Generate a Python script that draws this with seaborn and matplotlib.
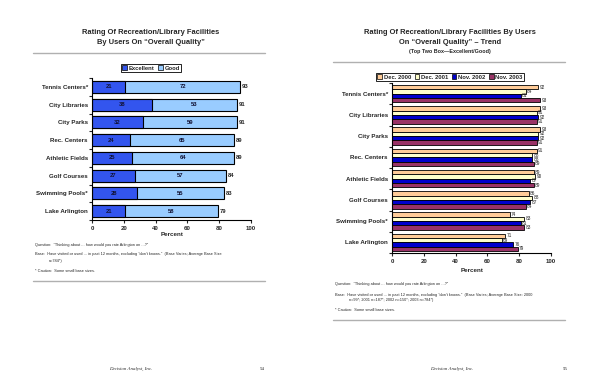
import pandas as pd
import numpy as np
import seaborn as sns
import matplotlib.pyplot as plt
from matplotlib.patches import Patch
from matplotlib.lines import Line2D

facilities = ["Tennis Centers*", "City Libraries", "City Parks", "Rec. Centers",
              "Athletic Fields", "Golf Courses", "Swimming Pools*", "Lake Arlington"]
excellent = [21, 38, 32, 24, 25, 27, 28, 21]
good = [72, 53, 59, 65, 64, 57, 55, 58]
total = [93, 91, 91, 89, 89, 84, 83, 79]

periods = ["Dec. 2000", "Dec. 2001", "Nov. 2002", "Nov. 2003"]
dec2000 = [92, 93, 93, 91, 89, 86, 74, 71]
dec2001 = [84, 91, 92, 88, 90, 88, 83, 69]
nov2002 = [81, 92, 92, 88, 87, 87, 81, 76]
nov2003 = [93, 91, 91, 89, 89, 84, 83, 79]

sns.set_theme(style="white")
plt.rcParams['font.family'] = ['Liberation Sans', 'DejaVu Sans']

W, H = 600, 388
fig = plt.figure(figsize=(6, 3.88), dpi=100)


def fx(px):
    return px / W


def fy(py):
    return 1 - py / H


def style_axes(ax):
    sns.despine(ax=ax)
    ax.set_xlim(0, 100)
    ax.set_ylim(len(facilities) - 0.5, -0.5)
    ax.set_xticks(range(0, 101, 20))
    ax.set_ylabel("")
    ax.set_xlabel("")
    ax.tick_params(axis="x", labelsize=4.4, length=2.5, width=0.8, pad=1.5, direction="out", bottom=True)
    ax.tick_params(axis="y", which="major", labelsize=4.4, length=0, pad=3)
    ax.set_yticks(np.arange(-0.5, len(facilities)), minor=True)
    ax.tick_params(axis="y", which="minor", length=2.5, width=0.8, direction="out", left=True)
    for lab in ax.get_xticklabels() + ax.get_yticklabels():
        lab.set_fontweight("bold")
    for s in ["left", "bottom"]:
        ax.spines[s].set_color("black")
        ax.spines[s].set_linewidth(0.8)
    ax.grid(False)


# ---------- left page ----------
fig.text(fx(151), fy(33), "Rating Of Recreation/Library Facilities", ha="center", va="center",
         fontsize=5.4, fontweight="bold")
fig.text(fx(151), fy(43), "By Users On \u201cOverall Quality\u201d", ha="center", va="center",
         fontsize=5.4, fontweight="bold")
fig.add_artist(Line2D([fx(33), fx(265)], [fy(53), fy(53)], color="#b0b0b0", lw=1))

left = pd.DataFrame({"facility": facilities, "excellent": excellent, "good": good, "total": total})
ax1 = fig.add_axes([fx(92), fy(220), fx(251) - fx(92), (220 - 78) / H])
sns.barplot(data=left, x="total", y="facility", color="#99ccff", saturation=1,
            edgecolor="black", linewidth=0.8, width=0.68, orient="h", ax=ax1)
sns.barplot(data=left, x="excellent", y="facility", color="#3355ee", saturation=1,
            edgecolor="black", linewidth=0.8, width=0.68, orient="h", ax=ax1)
style_axes(ax1)
ax1.bar_label(ax1.containers[0], labels=[str(v) for v in total], padding=1.5, fontsize=4.2, fontweight="bold")
ax1.bar_label(ax1.containers[1], labels=[str(v) for v in excellent], label_type="center",
              fontsize=4.2, fontweight="bold", color="#111133")
for i, (e, g) in enumerate(zip(excellent, good)):
    ax1.text(e + g / 2, i, str(g), ha="center", va="center", fontsize=4.2, fontweight="bold", color="#111133")
fig.text(fx(172), fy(235), "Percent", ha="center", va="center", fontsize=4.5, fontweight="bold")
fig.legend(handles=[Patch(facecolor="#3355ee", edgecolor="black", lw=0.5, label="Excellent"),
                    Patch(facecolor="#99ccff", edgecolor="black", lw=0.5, label="Good")],
           loc="center", bbox_to_anchor=(fx(151), fy(68)), ncol=2,
           prop={"weight": "bold", "size": 4.2}, frameon=True, fancybox=False, edgecolor="black",
           handlelength=0.8, handleheight=0.8, handletextpad=0.3, columnspacing=0.6,
           borderpad=0.3, framealpha=1).get_frame().set_linewidth(0.6)

fig.text(fx(35), fy(245), "Question:  \u201cThinking about ... how would you rate Arlington on ...?\u201d",
         fontsize=2.8, va="center")
fig.text(fx(35), fy(254), "Base:  Have visited or used ... in past 12 months, excluding \u201cdon\u2019t knows.\u201d  (Base Varies; Average Base Size",
         fontsize=2.8, va="center")
fig.text(fx(49), fy(261), "n=784*)", fontsize=2.8, va="center")
fig.text(fx(35), fy(271), "* Caution:  Some small base sizes.", fontsize=2.8, va="center")
fig.add_artist(Line2D([fx(33), fx(265)], [fy(281), fy(281)], color="#b0b0b0", lw=1))
fig.text(fx(131), fy(369), "Decision Analyst, Inc.", ha="center", va="center", fontsize=3.5,
         style="italic", family="Liberation Serif")
fig.text(fx(262), fy(369), "54", ha="center", va="center", fontsize=3.5, family="Liberation Serif")

# ---------- right page ----------
fig.text(fx(450), fy(33), "Rating Of Recreation/Library Facilities By Users", ha="center", va="center",
         fontsize=5.4, fontweight="bold")
fig.text(fx(450), fy(42), "On \u201cOverall Quality\u201d \u2013 Trend", ha="center", va="center",
         fontsize=5.4, fontweight="bold")
fig.text(fx(450), fy(51), "(Top Two Box\u2014Excellent/Good)", ha="center", va="center",
         fontsize=3.9, fontweight="bold")
fig.add_artist(Line2D([fx(333), fx(565)], [fy(62), fy(62)], color="#b0b0b0", lw=1))

trend = pd.DataFrame({"facility": facilities * 4,
                      "period": np.repeat(periods, len(facilities)),
                      "value": dec2000 + dec2001 + nov2002 + nov2003})
trend_colors = ["#ffcc99", "#ffffcc", "#0000cc", "#993366"]
ax2 = fig.add_axes([fx(392), fy(253), fx(551) - fx(392), (253 - 83) / H])
sns.barplot(data=trend, x="value", y="facility", hue="period", palette=trend_colors, saturation=1,
            edgecolor="black", linewidth=0.6, width=0.82, orient="h", legend=False, ax=ax2)
style_axes(ax2)
for cont in ax2.containers:
    ax2.bar_label(cont, padding=1, fontsize=3.4)
fig.text(fx(472), fy(270), "Percent", ha="center", va="center", fontsize=4.5, fontweight="bold")
fig.legend(handles=[Patch(facecolor=c, edgecolor="black", lw=0.5, label=p) for c, p in zip(trend_colors, periods)],
           loc="center", bbox_to_anchor=(fx(450), fy(77)), ncol=4,
           prop={"weight": "bold", "size": 4.2}, frameon=True, fancybox=False, edgecolor="black",
           handlelength=0.8, handleheight=0.8, handletextpad=0.3, columnspacing=0.6,
           borderpad=0.3, framealpha=1).get_frame().set_linewidth(0.6)

fig.text(fx(335), fy(284), "Question:  \u201cThinking about ... how would you rate Arlington on ...?\u201d",
         fontsize=2.8, va="center")
fig.text(fx(335), fy(295), "Base:  Have visited or used ... in past 12 months, excluding \u201cdon\u2019t knows.\u201d  (Base Varies; Average Base Size: 2000",
         fontsize=2.8, va="center")
fig.text(fx(349), fy(300), "n=99*; 2001 n=187*; 2002 n=150*; 2003 n=784*)", fontsize=2.8, va="center")
fig.text(fx(335), fy(310), "* Caution:  Some small base sizes.", fontsize=2.8, va="center")
fig.add_artist(Line2D([fx(333), fx(565)], [fy(320), fy(320)], color="#b0b0b0", lw=1))
fig.text(fx(452), fy(369), "Decision Analyst, Inc.", ha="center", va="center", fontsize=3.5,
         style="italic", family="Liberation Serif")
fig.text(fx(565), fy(369), "55", ha="center", va="center", fontsize=3.5, family="Liberation Serif")

fig.savefig("out.png", dpi=100)
